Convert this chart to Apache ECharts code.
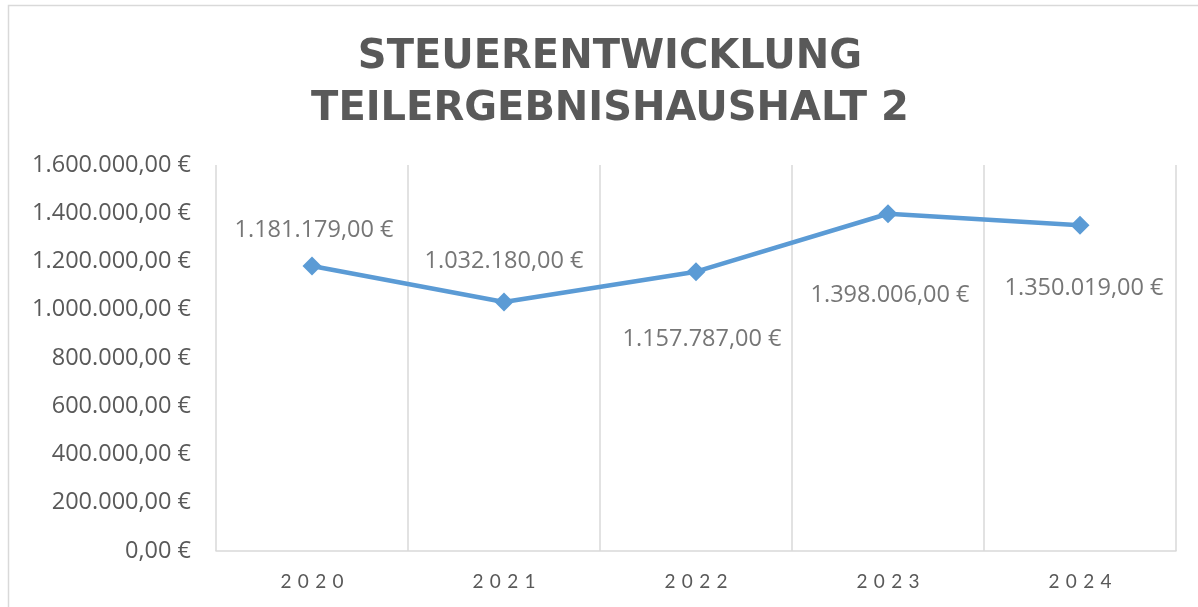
<!DOCTYPE html>
<html>
<head>
<meta charset="utf-8">
<script src="https://cdn.jsdelivr.net/npm/echarts@6/dist/echarts.min.js"></script>
<style>
  html, body { margin: 0; padding: 0; background: #fff; }
  #chart { width: 1198px; height: 607px; }
</style>
</head>
<body>
<div id="chart"></div>
<script>
const years = ['2020', '2021', '2022', '2023', '2024'];
const steuern = [1181179, 1032180, 1157787, 1398006, 1350019];

// Excel-Format: 1.234.567,00 €
function euro(v) {
  const s = Math.round(v).toString().replace(/\B(?=(\d{3})+(?!\d))/g, '.');
  return s + ',00 €';
}

// manuelle Label-Positionen wie im Original
const labelOffsets = [[2, -36], [0, -41], [6, 68], [2, 82], [4, 63]];

const chart = echarts.init(document.getElementById('chart'));
chart.setOption({
  backgroundColor: '#fff',
  animation: false,
  title: {
    text: 'STEUERENTWICKLUNG\nTEILERGEBNISHAUSHALT 2',
    left: 605,
    textAlign: 'center',
    top: 27,
    textStyle: {
      fontFamily: 'DejaVu Sans',
      fontWeight: 'bold',
      fontSize: 40,
      lineHeight: 52,
      color: '#595959'
    }
  },
  graphic: [{
    type: 'rect',
    shape: { x: 8.5, y: 5.5, width: 1200, height: 620 },
    style: { fill: 'none', stroke: '#d9d9d9', lineWidth: 1.5 },
    silent: true
  }],
  grid: { left: 216, right: 22, top: 165, bottom: 56 },
  xAxis: {
    type: 'category',
    data: years,
    boundaryGap: true,
    axisLine: { lineStyle: { color: '#d9d9d9', width: 1.5 } },
    axisTick: { show: false },
    splitLine: { show: true, lineStyle: { color: '#d9d9d9', width: 1.5 } },
    axisLabel: {
      margin: 21,
      fontFamily: 'Lato',
      fontSize: 19,
      color: '#595959',
      formatter: v => v.split('').join('\u2004')
    }
  },
  yAxis: {
    type: 'value',
    min: 0,
    max: 1600000,
    interval: 200000,
    axisLine: { show: false },
    axisTick: { show: false },
    splitLine: { show: false },
    axisLabel: {
      margin: 25,
      fontFamily: 'Open Sans',
      fontSize: 23.5,
      color: '#595959',
      formatter: v => euro(v)
    }
  },
  series: [{
    type: 'line',
    data: steuern.map((v, i) => ({
      value: v,
      label: { offset: labelOffsets[i] }
    })),
    symbol: 'diamond',
    symbolSize: 19,
    lineStyle: { color: '#5b9bd5', width: 4.5 },
    itemStyle: { color: '#5b9bd5' },
    label: {
      show: true,
      position: 'inside',
      align: 'center',
      verticalAlign: 'middle',
      fontFamily: 'Open Sans',
      fontSize: 23.5,
      color: '#767676',
      formatter: p => euro(p.value)
    }
  }]
});
</script>
</body>
</html>
